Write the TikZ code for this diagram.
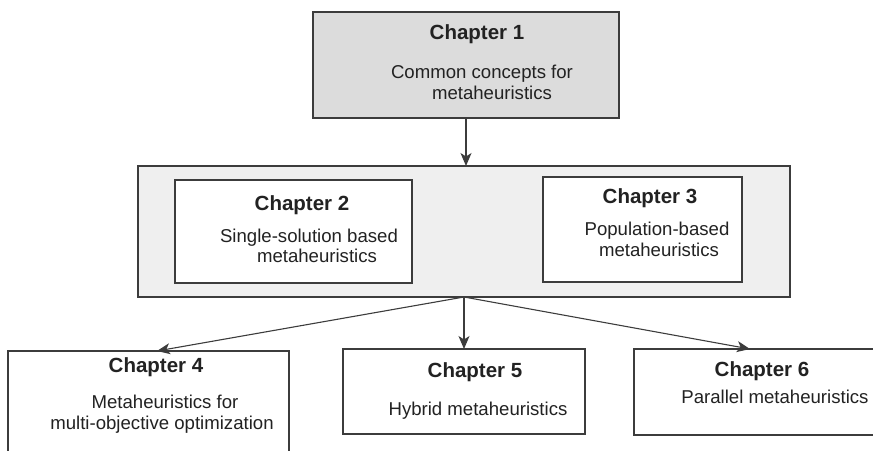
\documentclass[tikz,border=0pt]{standalone}
\usepackage{fontspec}
\setmainfont{Liberation Sans}
\usetikzlibrary{arrows.meta}
\definecolor{linec}{HTML}{3C3C3C}
\definecolor{textc}{HTML}{222222}
\definecolor{topfill}{HTML}{DCDCDC}
\definecolor{groupfill}{HTML}{EFEFEF}
\begin{document}
\begin{tikzpicture}[x=1pt,y=-1pt,
  chapbox/.style={draw=linec,line width=1.1pt,fill=white,rectangle,inner sep=0pt,outer sep=0pt},
  head/.style={anchor=base,inner sep=0pt,text=textc,font=\fontsize{20.5}{24}\selectfont\bfseries},
  body/.style={anchor=base,inner sep=0pt,text=textc,font=\fontsize{18.6}{22}\selectfont},
  link/.style={draw=linec,line width=1.1pt,-{Stealth[length=13pt,width=11pt,inset=3.5pt]}}]
\useasboundingbox (0,0) rectangle (873,450);
\clip (0,0) rectangle (873,450);

% boxes
\node[chapbox,fill=topfill,minimum width=306pt,minimum height=106pt] (c1) at (466,65) {};
\node[chapbox,fill=groupfill,minimum width=652pt,minimum height=131pt] (grp) at (464,231.5) {};
\node[chapbox,minimum width=237pt,minimum height=103pt] (c2) at (293.5,231.5) {};
\node[chapbox,minimum width=199pt,minimum height=105pt] (c3) at (642.5,229.5) {};
\node[chapbox,minimum width=281pt,minimum height=119pt] (c4) at (148.5,410.5) {};
\node[chapbox,minimum width=242pt,minimum height=85pt] (c5) at (464,391.5) {};
\node[chapbox,minimum width=266pt,minimum height=86pt] (c6) at (767,392) {};

% labels
\node[head] (h1) at (477,39) {Chapter 1};
\node[body] (b1a) at (482,78) {Common concepts for};
\node[body] (b1b) at (492,99) {metaheuristics};

\node[head] (h2) at (302,210) {Chapter 2};
\node[body] (b2a) at (309,242) {Single-solution based};
\node[body] (b2b) at (317,262) {metaheuristics};

\node[head] (h3) at (650,203) {Chapter 3};
\node[body] (b3a) at (657,235) {Population-based};
\node[body] (b3b) at (659,256) {metaheuristics};

\node[head] (h4) at (156,372) {Chapter 4};
\node[body] (b4a) at (165,408) {Metaheuristics for};
\node[body] (b4b) at (162,429) {multi-objective optimization};

\node[head] (h5) at (475,377) {Chapter 5};
\node[body] (b5a) at (478,415) {Hybrid metaheuristics};

\node[head] (h6) at (762,376) {Chapter 6};
\node[body] (b6a) at (775,403) {Parallel metaheuristics};

% connectors
\draw[link] (c1.south) -- (c1.south |- grp.north);
\draw[link] (grp.south) -- ([xshift=8.5pt]c4.north);
\draw[link] (grp.south) -- (c5.north);
\draw[link] (grp.south) -- ([xshift=-17pt]c6.north);
\end{tikzpicture}
\end{document}
